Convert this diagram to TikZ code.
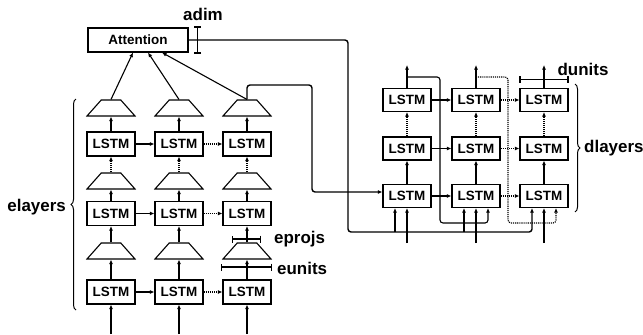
\documentclass[tikz,border=0pt]{standalone}
\usepackage{fontspec}
\setmainfont{Liberation Sans}
\usetikzlibrary{arrows.meta,shapes.geometric,decorations.pathreplacing,calc}

\begin{document}
\begin{tikzpicture}[x=1bp,y=-1bp,
    lstm/.style={draw,line width=1.1bp,minimum width=48bp,minimum height=24bp,inner sep=0pt,
        font=\fontsize{13.5}{15}\selectfont\bfseries},
    proj/.style={draw,line width=1.1bp,trapezium,trapezium angle=54,trapezium stretches=true,
        minimum width=48bp,minimum height=16bp,inner sep=1bp},
    lbl/.style={inner sep=1bp,font=\fontsize{17}{19}\selectfont\bfseries},
    arr/.style={line width=1.1bp,-{Latex[length=4.5bp,width=4bp]}},
    dots/.style={arr,densely dotted},
    ctx/.style={line width=1.4bp,rounded corners=3bp},
    dimbar/.style={line width=1.1bp,{Bar[width=7bp]}-{Bar[width=7bp]}},
    brc/.style={line width=1bp,decorate,decoration={brace,amplitude=5bp}}]
    \useasboundingbox (0,0) rectangle (643,334);

    % encoder
    \foreach \c/\x in {1/111,2/179,3/247}{
        \node [lstm] (e\c1) at (\x,292) {LSTM};
        \node [proj] (p\c1) at (\x,251) {};
        \node [lstm] (e\c2) at (\x,213.5) {LSTM};
        \node [proj] (p\c2) at (\x,181) {};
        \node [lstm] (e\c3) at (\x,144) {LSTM};
        \node [proj] (p\c3) at (\x,108) {};
        \coordinate (ein\c) at (\x,334);
    }
    \node [lstm,minimum width=100bp] (att) at (138,40) {Attention};

    % decoder
    \foreach \c/\x in {1/407,2/476,3/544}{
        \node [lstm,minimum height=23bp] (d\c1) at (\x,196) {LSTM};
        \node [lstm,minimum height=23bp] (d\c2) at (\x,148.5) {LSTM};
        \node [lstm,minimum height=23bp] (d\c3) at (\x,100) {LSTM};
        \coordinate (din\c) at (\x,243);
        \coordinate (dout\c) at (\x,65);
        \coordinate (dl\c) at ([xshift=-12bp]d\c1.south);
        \coordinate (dr\c) at ([xshift=12bp]d\c1.south);
    }

    % encoder connections
    \foreach \c in {1,2,3}{
        \draw [arr] (ein\c) -- (e\c1);
        \draw [arr] (e\c1) -- (p\c1);
        \draw [arr] (p\c1) -- (e\c2);
        \draw [arr] (e\c2) -- (p\c2);
        \draw [dots] (p\c2) -- (e\c3);
        \draw [arr] (e\c3) -- (p\c3);
    }
    \foreach \r in {1,2,3}{
        \draw [arr] (e1\r) -- (e2\r);
        \draw [dots] (e2\r) -- (e3\r);
    }
    \draw [arr] (p13.north) -- ([xshift=-5bp]att.south);
    \draw [arr] (p23.north) -- ([xshift=10bp]att.south);
    \draw [arr] (p33.north) -- ([xshift=24bp]att.south);

    % decoder connections
    \foreach \c in {1,2,3}{
        \draw [arr] (din\c) -- (d\c1);
        \draw [arr] (d\c1) -- (d\c2);
        \draw [dots] (d\c2) -- (d\c3);
        \draw [arr] (d\c3) -- (dout\c);
    }
    \foreach \r in {1,2,3}{
        \draw [arr] (d1\r) -- (d2\r);
        \draw [dots] (d2\r) -- (d3\r);
    }

    % context and feedback
    \coordinate (turn) at (312,85);
    \coordinate (cx) at (348,232);
    \draw [ctx,arr,line width=1.4bp] (p33.north) |- (turn) |- ([yshift=4bp]d11.west);
    \draw [ctx,arr,line width=1.4bp] (att.east) -| (cx) -| (dl3);
    \draw [arr] (cx -| dl1) -- (dl1);
    \draw [arr] (cx -| dl2) -- (dl2);
    \draw [ctx,arr] ([yshift=11bp]d13.north) -| (440,223) -| (dr2);
    \draw [ctx,dots] ([yshift=11bp]d23.north) -| (508,223) -| (dr3);

    % dimensions
    \draw [dimbar] ([xshift=9bp,yshift=1bp]att.north east) -- ([xshift=9bp,yshift=-1bp]att.south east);
    \node [lbl] (adim) at (203,14) {adim};
    \draw [dimbar] ([yshift=8.5bp]d33.north west) -- ([yshift=8.5bp]d33.north east);
    \node [lbl] (dunits) at (583,69) {dunits};
    \draw [dimbar] (232,239) -- (261,239);
    \node [lbl,anchor=west] (eprojs) at (273,239) {eprojs};
    \draw [dimbar] (221,267) -- (272,267);
    \node [lbl,anchor=west] (eunits) at (276,268) {eunits};

    % layer braces
    \draw [brc] (76,310) -- (76,99);
    \node [lbl,anchor=east] (elayers) at (67,207) {elayers};
    \draw [brc] (575,84) -- (575,212);
    \node [lbl,anchor=west] (dlayers) at (583,148) {dlayers};
\end{tikzpicture}
\end{document}
